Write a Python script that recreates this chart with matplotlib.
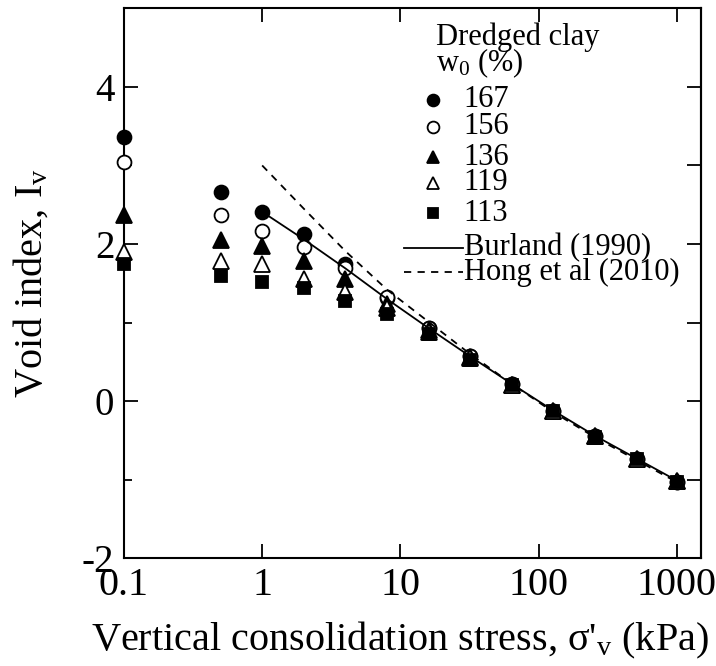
import matplotlib
matplotlib.use("Agg")
import matplotlib.pyplot as plt
from matplotlib.ticker import FixedLocator, NullLocator, FixedFormatter, NullFormatter

plt.rcParams['font.family'] = ['Liberation Serif', 'DejaVu Serif']
plt.rcParams['mathtext.fontset'] = 'custom'
plt.rcParams['mathtext.rm'] = 'Liberation Serif'
plt.rcParams['mathtext.it'] = 'Liberation Serif:italic'
plt.rcParams['axes.unicode_minus'] = False

# ---- data ----
stress = [0.1, 0.5, 1, 2, 4, 8, 16, 32, 64, 128, 256, 512, 1000]
w167 = [3.36, 2.66, 2.41, 2.13, 1.74, 1.31, 0.93, 0.58, 0.22, -0.12, -0.44, -0.73, -1.03]
w156 = [3.05, 2.37, 2.17, 1.96, 1.69, 1.32, 0.93, 0.57, 0.22, -0.12, -0.44, -0.73, -1.03]
w136 = [2.37, 2.05, 1.98, 1.79, 1.55, 1.24, 0.90, 0.56, 0.21, -0.12, -0.44, -0.73, -1.02]
w119 = [1.90, 1.79, 1.75, 1.56, 1.39, 1.19, 0.88, 0.55, 0.21, -0.12, -0.44, -0.73, -1.02]
w113 = [1.75, 1.59, 1.52, 1.44, 1.28, 1.11, 0.85, 0.53, 0.20, -0.13, -0.45, -0.74, -1.03]

line_stress = [1, 2, 4, 8, 16, 32, 64, 128, 256, 512, 1000]
burland = [2.41, 2.06, 1.69, 1.30, 0.93, 0.57, 0.22, -0.12, -0.44, -0.73, -1.01]
hong = [3.00, 2.45, 1.91, 1.42, 1.01, 0.60, 0.22, -0.14, -0.46, -0.75, -1.03]

series_labels = ['167', '156', '136', '119', '113']
xtick_vals = [0.1, 1, 10, 100, 1000]
xtick_labels = ['0.1', '1', '10', '100', '1000']
ytick_vals = [-2, 0, 2, 4]
ytick_labels = ['-2', '0', '2', '4']
yminor_vals = [-1, 1, 3]

styles = [
    dict(marker='o', mfc='black', mec='black', ms=10),
    dict(marker='o', mfc='white', mec='black', ms=10),
    dict(marker='^', mfc='black', mec='black', ms=11),
    dict(marker='^', mfc='white', mec='black', ms=11),
    dict(marker='s', mfc='black', mec='black', ms=8.5),
]

fig = plt.figure(figsize=(7.16, 6.66), dpi=100)
ax = fig.add_axes([124/716, 1-558.3/666, (701-124)/716, (558.3-8.3)/666])

for vals, st in zip([w167, w156, w136, w119, w113], styles):
    ax.plot(stress, vals, linestyle='none', mew=1.3, zorder=3, clip_on=False, **st)

ax.plot(line_stress, burland, color='black', lw=1.3, zorder=4)
ax.plot(line_stress, hong, color='black', lw=1.3, ls=(0, (4, 3.5)), zorder=4)

ax.set_xscale('log')
ax.set_xlim(0.1, 1500)
ax.set_ylim(-2, 5)
ax.xaxis.set_major_locator(FixedLocator(xtick_vals))
ax.xaxis.set_major_formatter(FixedFormatter(xtick_labels))
ax.xaxis.set_minor_locator(NullLocator())
ax.yaxis.set_major_locator(FixedLocator(ytick_vals))
ax.yaxis.set_major_formatter(FixedFormatter(ytick_labels))
ax.yaxis.set_minor_locator(FixedLocator(yminor_vals))

ax.tick_params(which='both', direction='in', top=True, right=False, width=1.3)
ax.tick_params(which='major', length=10)
ax.tick_params(which='minor', length=6)
ax.tick_params(axis='x', labelsize=29, pad=6)
ax.tick_params(axis='y', labelsize=28, pad=7)
for s in ax.spines.values():
    s.set_linewidth(1.5)

# right-side ticks (all the same length, no labels)
sec = ax.secondary_yaxis('right')
sec.yaxis.set_major_locator(FixedLocator(sorted(ytick_vals + yminor_vals)))
sec.yaxis.set_major_formatter(NullFormatter())
sec.yaxis.set_minor_locator(NullLocator())
sec.tick_params(direction='in', length=10, width=1.3)
sec.spines['right'].set_linewidth(1.5)

ax.set_xlabel("Vertical consolidation stress, σ'$_\\mathrm{v}$ (kPa)", fontsize=29)
ax.xaxis.set_label_coords(0.478, -0.167, transform=ax.transAxes)
ax.xaxis.label.set_va('baseline')
ax.set_ylabel("Void index, I$_\\mathrm{v}$", fontsize=29)
ax.yaxis.set_label_coords(-0.127, 0.5, transform=ax.transAxes)

# ---- manual legend ----
fs_leg = 22
ax.text(0.541, 0.9333, 'Dredged clay', transform=ax.transAxes, fontsize=fs_leg, va='baseline')
ax.text(0.541, 0.8847, 'w$_\\mathrm{0}$ (%)', transform=ax.transAxes, fontsize=fs_leg, va='baseline')
rows = [0.8333, 0.7842, 0.7296, 0.6824, 0.6278]
for yy, st, lab in zip(rows, styles, series_labels):
    st2 = dict(st)
    st2['ms'] = st['ms'] * 0.85
    ax.plot([0.535], [yy], transform=ax.transAxes, linestyle='none', mew=1.3, clip_on=False, **st2)
    ax.text(0.589, yy, lab, transform=ax.transAxes, fontsize=fs_leg, va='center')
ax.plot([0.485, 0.587], [0.5642, 0.5642], transform=ax.transAxes, color='black', lw=1.3)
ax.text(0.589, 0.5642, 'Burland (1990)', transform=ax.transAxes, fontsize=fs_leg, va='center')
ax.plot([0.485, 0.587], [0.5205, 0.5205], transform=ax.transAxes, color='black', lw=1.3, ls=(0, (4, 3.5)))
ax.text(0.589, 0.5205, 'Hong et al (2010)', transform=ax.transAxes, fontsize=fs_leg, va='center')

fig.savefig('out.png', dpi=100)
